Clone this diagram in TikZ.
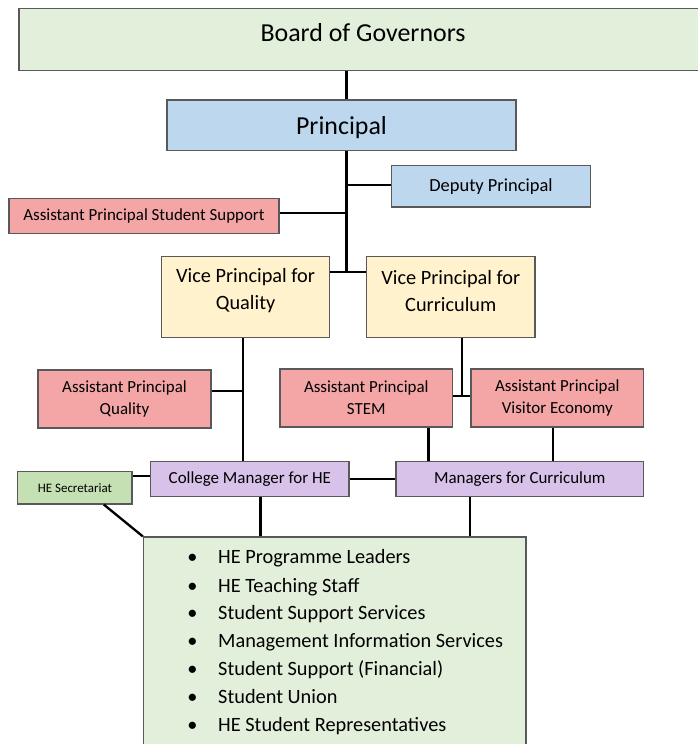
\documentclass[tikz,border=0pt]{standalone}
\usepackage{fontspec}
\setmainfont{Carlito}
\definecolor{bordergray}{HTML}{595959}
\definecolor{boardgreen}{HTML}{E2EFDA}
\definecolor{princblue}{HTML}{BDD7EE}
\definecolor{apred}{HTML}{F4A6A6}
\definecolor{vpyellow}{HTML}{FFF2CC}
\definecolor{mgrpurple}{HTML}{D8C2EA}
\definecolor{secgreen}{HTML}{C5E0B3}
\begin{document}
\begin{tikzpicture}[x=1bp,y=-1bp,
  box/.style={draw=bordergray, line width=1.2bp, inner sep=0pt, align=center},
  conn/.style={line width=2.3bp, draw=black},
  bigfont/.style={font=\fontsize{26}{30}\selectfont},
  midfont/.style={font=\fontsize{18.5}{22}\selectfont},
  smallfont/.style={font=\fontsize{17}{22}\selectfont},
  vpfont/.style={font=\fontsize{20.4}{27}\selectfont},
  listfont/.style={font=\fontsize{20.4}{24}\selectfont},
  tinyfont/.style={font=\fontsize{13}{15}\selectfont}]
\useasboundingbox (0,0) rectangle (698,744);
\clip (0,0) rectangle (698,744);

% boxes
\node[box, fill=boardgreen, minimum width=693bp, minimum height=62.4bp] (board) at (365.5,39.5) {};
\node[bigfont] (boardt) at (363,32.5) {Board of Governors};
\node[box, fill=princblue, minimum width=349bp, minimum height=50.5bp] (princ) at (341.5,125.3) {};
\node[bigfont] (princt) at (341.5,127.5) {Principal};
\node[box, fill=princblue, minimum width=199bp, minimum height=41.3bp, midfont] (dep) at (491,186.3) {Deputy Principal};
\node[box, fill=apred, minimum width=270bp, minimum height=35.7bp, smallfont] (apss) at (144,216) {Assistant Principal Student Support};
\node[box, fill=vpyellow, minimum width=168bp, minimum height=81bp] (vpq) at (245.6,297.2) {};
\node[vpfont, align=center] (vpqt) at (245.6,291) {Vice Principal for\\Quality};
\node[box, fill=vpyellow, minimum width=168.4bp, minimum height=81bp] (vpc) at (450.8,297.2) {};
\node[vpfont, align=center] (vpct) at (450.8,291) {Vice Principal for\\Curriculum};
\node[box, fill=apred, minimum width=173bp, minimum height=58bp, smallfont] (apq) at (124.5,399) {Assistant Principal\\Quality};
\node[box, fill=apred, minimum width=172.5bp, minimum height=58bp, smallfont] (stem) at (366.3,398) {Assistant Principal\\STEM};
\node[box, fill=apred, minimum width=172.6bp, minimum height=58bp, smallfont] (ve) at (557.3,398) {Assistant Principal\\Visitor Economy};
\node[box, fill=mgrpurple, minimum width=198.4bp, minimum height=35.3bp, smallfont] (cmhe) at (249.8,479) {College Manager for HE};
\node[box, fill=mgrpurple, minimum width=247.6bp, minimum height=35.7bp, smallfont] (mfc) at (519.8,479) {Managers for Curriculum};
\node[box, fill=secgreen, minimum width=114.2bp, minimum height=32.3bp, tinyfont] (hes) at (74.9,487.8) {HE Secretariat};
\node[box, fill=boardgreen, minimum width=382.6bp, minimum height=233bp] (list) at (334.7,653.5) {};

% list items
\foreach \i/\yy/\txt in {1/558/HE Programme Leaders, 2/586.3/HE Teaching Staff, 3/614/Student Support Services, 4/641.7/Management Information Services, 5/670/Student Support (Financial), 6/697.5/Student Union, 7/725.5/HE Student Representatives}{
  \node[listfont, anchor=mid] (bul\i) at (192.4,\yy+3.5) {\textbullet};
  \node[listfont, anchor=mid west, inner sep=0pt] (item\i) at (218,\yy+3.5) {\txt};
}

% coordinates
\coordinate (tk) at (346.5,0);
\coordinate (vpj) at (346.5,271.7);
\coordinate (qx) at (243,0);
\coordinate (cj) at (462,396);
\coordinate (sx) at (428.5,0);
\coordinate (vx) at (553,0);
\coordinate (hx) at (103.8,0);
\coordinate (lx1) at (260.6,0);
\coordinate (lx2) at (470,0);
\coordinate (apqy) at (0,390.7);
\coordinate (dy) at (0,184.7);
\coordinate (sy) at (0,213);
\coordinate (hy) at (0,476);

% connectors
\draw[conn] (board.south -| tk) -- (princ.north -| tk);
\draw[conn] (princ.south -| tk) -- (vpj);
\draw[conn] (vpq.east |- vpj) -- (vpc.west |- vpj);
\draw[conn] (dep.west |- dy) -- (tk |- dy);
\draw[conn] (apss.east |- sy) -- (tk |- sy);
\draw[conn] (vpq.south -| qx) -- (cmhe.north -| qx);
\draw[conn] (apq.east |- apqy) -- (qx |- apqy);
\draw[conn] (vpc.south -| cj) -- (cj);
\draw[conn] (stem.east |- cj) -- (ve.west |- cj);
\draw[conn] (stem.south -| sx) -- (mfc.north -| sx);
\draw[conn] (ve.south -| vx) -- (mfc.north -| vx);
\draw[conn] (cmhe.east) -- (cmhe.east -| mfc.west);
\draw[conn] (hes.east |- hy) -- (cmhe.west |- hy);
\draw[conn] (hes.south -| hx) -- (list.north west);
\draw[conn] (cmhe.south -| lx1) -- (list.north -| lx1);
\draw[conn] (mfc.south -| lx2) -- (list.north -| lx2);
\end{tikzpicture}
\end{document}
